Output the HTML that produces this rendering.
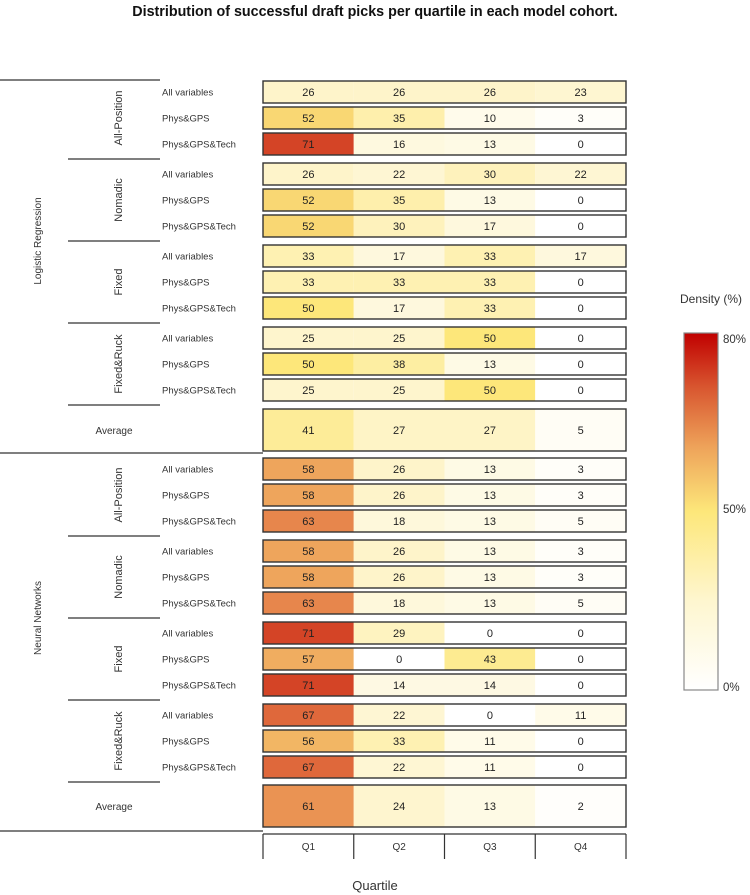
<!DOCTYPE html>
<html><head><meta charset="utf-8"><style>
body{margin:0;background:#fff}
svg{display:block;font-family:"Liberation Sans",sans-serif}
</style></head><body>
<svg id="c" width="750" height="895">
<defs><linearGradient id="g" x1="0" y1="1" x2="0" y2="0">
<stop offset="0" stop-color="#ffffff"/><stop offset="0.25" stop-color="#fef6cf"/><stop offset="0.5" stop-color="#fde77a"/><stop offset="0.68" stop-color="#eea35a"/><stop offset="0.85" stop-color="#d8552f"/><stop offset="1" stop-color="#c00000"/></linearGradient></defs>
</svg>
<script>
const models=["Logistic Regression","Neural Networks"];
const groups=["All-Position","Nomadic","Fixed","Fixed&Ruck"];
const variants=["All variables","Phys&GPS","Phys&GPS&Tech"];
const quartiles=["Q1","Q2","Q3","Q4"];
const lrValues=[[26,26,26,23],[52,35,10,3],[71,16,13,0],[26,22,30,22],[52,35,13,0],[52,30,17,0],[33,17,33,17],[33,33,33,0],[50,17,33,0],[25,25,50,0],[50,38,13,0],[25,25,50,0]];
const lrAverage=[41,27,27,5];
const nnValues=[[58,26,13,3],[58,26,13,3],[63,18,13,5],[58,26,13,3],[58,26,13,3],[63,18,13,5],[71,29,0,0],[57,0,43,0],[71,14,14,0],[67,22,0,11],[56,33,11,0],[67,22,11,0]];
const nnAverage=[61,24,13,2];
const colorTicks=[0,50,80];

const svg=document.getElementById('c');const NS='http://www.w3.org/2000/svg';
function mk(t,a,txt){const e=document.createElementNS(NS,t);for(const k in a)e.setAttribute(k,a[k]);if(txt!=null)e.textContent=txt;svg.appendChild(e);return e;}
const stops=[[0,[255,255,255]],[25,[254,245,205]],[50,[253,231,122]],[58,[238,165,92]],[65,[228,122,70]],[71,[212,68,38]],[80,[192,0,0]]];
function color(v){for(let i=1;i<stops.length;i++){if(v<=stops[i][0]){const a=stops[i-1],b=stops[i],t=(v-a[0])/(b[0]-a[0]);return 'rgb('+a[1].map((c,j)=>Math.round(c+(b[1][j]-c)*t)).join(',')+')';}}return 'rgb(192,0,0)';}
const X0=263,CW=90.75;
function xq(i){return X0+i*CW;}
function rowY(m,g,r){return 92+m*377+g*82+r*26;}
function drawRow(vals,cy,h,name){
 vals.forEach((v,i)=>{
  const r=mk('rect',{x:xq(i),y:cy-h/2,width:CW,height:h,fill:color(v)});
  
  
  const t=mk('text',{x:xq(i)+CW/2,y:cy+4,'text-anchor':'middle','font-size':11,fill:'#222'},v);
  
  
 });
 const b=mk('rect',{x:X0,y:cy-h/2,width:CW*4,height:h,fill:'none',stroke:'#333','stroke-width':1.4});
 
 
}
function txt(x,y,s,size,extra,name){const t=mk('text',Object.assign({x:x,y:y,'font-size':size,fill:'#333'},extra||{}),s);return t;}
function line(x1,y1,x2,y2,name){const l=mk('line',{x1,y1,x2,y2,stroke:'#333','stroke-width':1.2});}
[ [lrValues,lrAverage],[nnValues,nnAverage] ].forEach(([vals,avg],m)=>{
 const key=m?'nn':'lr';
 groups.forEach((g,gi)=>{
  variants.forEach((v,ri)=>{
   const cy=rowY(m,gi,ri);
   drawRow(vals[gi*3+ri],cy,22,key+'-'+gi+'-'+ri);
   txt(162,cy+3.5,v,9.5,{},key+'-row-label');
  });
  const gc=rowY(m,gi,1);
  txt(0,0,g,11,{'text-anchor':'middle',transform:'translate('+(122)+','+gc+') rotate(-90)'},key+'-group-label');
  if(gi>0)line(68,rowY(m,gi,0)-15,160,rowY(m,gi,0)-15,'group-separator');
 });
 line(68,rowY(m,3,2)+15,160,rowY(m,3,2)+15,'group-separator');
 const ay=430+m*376;
 drawRow(avg,ay,42,key+'-average');
 txt(114,ay+4,'Average',10,{'text-anchor':'middle'},key+'-average-label');
 txt(0,0,models[m],10,{'text-anchor':'middle',transform:'translate(41,'+(rowY(m,1,2)+15)+') rotate(-90)'},key+'-model-label');
});
line(0,80,160,80,'top-border');
line(0,453,263,453,'model-separator');
line(0,831,263,831,'bottom-border');
line(X0,834,X0+CW*4,834,'x-axis-line');
quartiles.forEach((q,i)=>{line(xq(i),834,xq(i),859,'x-tick');txt(xq(i)+CW/2,850,q,10,{'text-anchor':'middle'},'x-tick-label');});
line(xq(4),834,xq(4),859,'x-tick');
txt(375,890,'Quartile',13,{'text-anchor':'middle'},'x-axis-title');
txt(375,16,'Distribution of successful draft picks per quartile in each model cohort.',14.3,{'text-anchor':'middle','font-weight':'bold',fill:'#111'},'chart-title');
const LT=333,LB=690,LX=684,LW=34;
const lb=mk('rect',{x:LX,y:LT,width:LW,height:LB-LT,fill:'url(#g)',stroke:'#888','stroke-width':1.2});

function ly(v){return v<=50?687-(v/50)*178:509-((v-50)/30)*170;}
colorTicks.forEach(v=>txt(723,ly(v)+4,v+'%',11.5,{},'color-scale-tick'));
txt(711,303,'Density (%)',12,{'text-anchor':'middle'},'legend-title');
</script>
</body></html>
